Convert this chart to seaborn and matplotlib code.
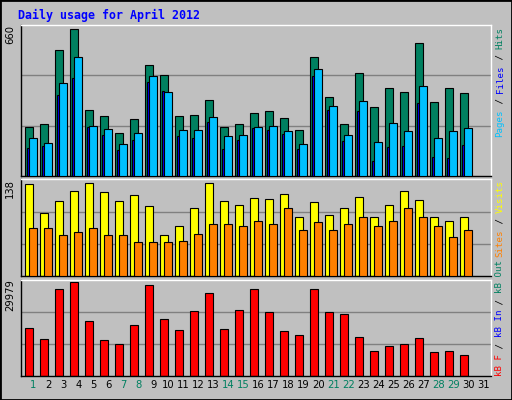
import matplotlib
matplotlib.use("Agg")
import matplotlib.pyplot as plt
import matplotlib.transforms as mtrans
import seaborn as sns
import numpy as np
from matplotlib.patches import Rectangle

sns.set_theme(style="white")
plt.rcParams['font.family'] = ['DejaVu Sans Mono', 'DejaVu Sans']

days = list(range(1, 32))
weekend_days = [1, 7, 8, 14, 15, 21, 22, 28, 29]
hits = [215,228,552,644,289,263,188,250,486,442,263,267,333,215,228,276,285,254,201,521,346,228,451,302,385,368,583,324,385,364]
files = [166,145,407,521,219,206,140,188,438,368,201,201,258,175,180,215,219,197,140,469,307,180,329,149,232,197,394,166,197,210]
pages = [123,131,355,429,215,180,114,158,412,372,175,166,237,118,158,210,201,184,118,438,289,153,285,66,127,131,320,83,79,136]
visits = [133,91,108,123,135,121,108,117,101,60,73,99,135,108,102,113,111,118,85,107,88,99,114,86,102,123,110,85,79,85]
sites = [70,69,59,64,70,59,59,50,50,50,51,61,76,75,72,79,76,99,67,78,66,76,86,73,79,99,86,72,56,67]
kbytes = [14883,11670,27410,29337,17130,11350,10064,15846,28694,17773,14240,20343,26125,14561,20664,27410,20022,13919,12955,27410,20022,19380,12313,7816,9422,10064,11992,7495,7816,6531]
max_hits, max_visits, max_kb = 660, 138, 29979

BG = "#c0c0c0"
W, H = 512, 400
fig = plt.figure(figsize=(5.12, 4.0), dpi=100, facecolor=BG)

def ax_at(x0, y0, x1, y1):
    return fig.add_axes([x0 / W, 1 - y1 / H, (x1 - x0) / W, (y1 - y0) / H])

d = np.arange(1, len(hits) + 1)
ax1 = ax_at(20.7, 24.7, 490.7, 176.3)
ax2 = ax_at(20.7, 179.5, 490.7, 276.3)
ax3 = ax_at(20.7, 279.5, 490.7, 375.7)

def style(ax, ymax):
    ax.set_facecolor(BG)
    ax.set_xlim(0.16, 31.5)
    ax.set_ylim(0, ymax)
    for fr in (1/3, 2/3):
        ax.axhline(ymax * fr, color="#808080", lw=1, zorder=0)
    ax.set_xticks([]); ax.set_yticks([])
    for s in ("top", "right"):
        ax.spines[s].set_color("white")
    for s in ("left", "bottom"):
        ax.spines[s].set_color("black")
    for s in ax.spines.values():
        s.set_linewidth(1)

style(ax1, max_hits * 1.003)
ax1.bar(d - 0.285, hits, width=0.49, color="#008060", edgecolor="black", lw=0.8, zorder=2)
ax1.bar(d - 0.345, pages, width=0.15, color="#0000ff", edgecolor="black", lw=0.8, zorder=3)
ax1.bar(d - 0.025, files, width=0.49, color="#00c0ff", edgecolor="black", lw=0.8, zorder=4)

style(ax2, max_visits * 1.01)
ax2.bar(d - 0.265, visits, width=0.53, color="#ffff00", edgecolor="black", lw=0.8, zorder=2)
ax2.bar(d - 0.025, sites, width=0.49, color="#ff8000", edgecolor="black", lw=0.8, zorder=3)

style(ax3, max_kb * 1.01)
ax3.bar(d - 0.285, kbytes, width=0.49, color="#ff0000", edgecolor="black", lw=0.8, zorder=2)

for day in days:
    ax3.text(day, -0.045, str(day), transform=ax3.get_xaxis_transform(), ha="center", va="top",
             fontsize=7.2, color="#008060" if day in weekend_days else "black", family="DejaVu Sans")

fig.text(18 / W, 1 - 15 / H, "Daily usage for April 2012", color="#0000ff", fontsize=8.4,
         fontweight="bold", ha="left", va="center")

for ax, lab in ((ax1, "660"), (ax2, "138"), (ax3, "29979")):
    ax.text(-0.012, 1.0, lab, transform=ax.transAxes, rotation=90, ha="right", va="top",
            fontsize=7.2, color="black", family="DejaVu Sans")

FS = 6.6
adv = 0.602 * FS
def vlabel(ybottom_px, parts):
    n = 0
    for txt, col in parts:
        tr = mtrans.ScaledTranslation(500 / 100, (H - ybottom_px) / 100 + n * adv / 72, fig.dpi_scale_trans)
        fig.text(0, 0, txt, color=col, fontsize=FS, rotation=90, ha="center", va="bottom", transform=tr)
        n += len(txt)

sep = "#000000"
vlabel(137, [("Pages", "#00c0ff"), (" / ", sep), ("Files", "#0000ff"), (" / ", sep), ("Hits", "#008060")])
vlabel(257, [("Sites", "#ff8000"), (" / ", sep), ("Visits", "#ffff00")])
vlabel(376, [("kB F", "#ff0000"), (" / ", sep), ("kB In", "#0000ff"), (" / ", sep), ("kB Out", "#008060")])

fig.patches.append(Rectangle((0, 0), 1, 1, transform=fig.transFigure, fill=False, edgecolor="black", lw=2))

fig.savefig("out.png", dpi=100, facecolor=BG)
